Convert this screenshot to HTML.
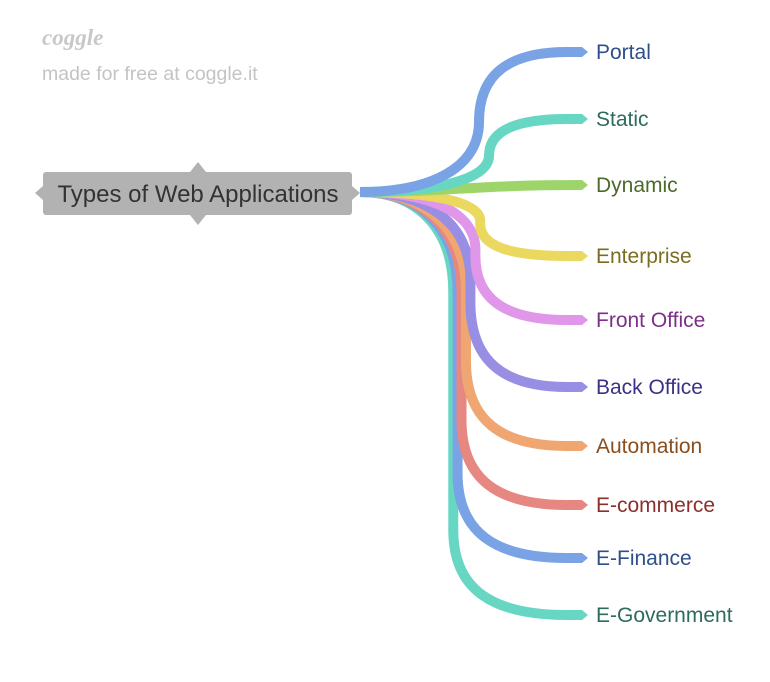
<!DOCTYPE html>
<html><head><meta charset="utf-8"><style>
body{margin:0;background:#fff;width:770px;height:677px;overflow:hidden;font-family:"Liberation Sans",sans-serif}
</style></head><body>
<svg id="map" width="770" height="677" viewBox="0 0 770 677">
<text x="42" y="45" font-size="23" font-style="italic" font-weight="bold" fill="#c8c8c8" font-family="Liberation Serif, serif">coggle</text>
<text x="42" y="80" font-size="19.5" fill="#c4c4c4">made for free at coggle.it</text>
<g id="branches"></g>
<g>
<polygon points="43,186 35,193 43,200" fill="#b2b2b2"/>
<polygon points="352,186 360,193 352,200" fill="#b2b2b2"/>
<polygon points="190,172 198,162 206,172" fill="#b2b2b2"/>
<polygon points="190,215 198,225 206,215" fill="#b2b2b2"/>
<rect x="43" y="172" width="309" height="43" rx="3" fill="#b2b2b2"/>
<text x="198" y="202" text-anchor="middle" font-size="24" fill="#333">Types of Web Applications</text>
</g>
</svg>
<script>
const labels=["Portal","Static","Dynamic","Enterprise","Front Office","Back Office","Automation","E-commerce","E-Finance","E-Government"];
const ys=[52,119,185,256,320,387,446,505,558,615];
const lineColors=["#7aa3e5","#67d7c4","#9ed56b","#ebd95f","#e096e9","#988ee3","#efa670","#e68782","#7aa3e5","#67d7c4"];
const textColors=["#2f4f8a","#2d6b5c","#4a6b2a","#7a6d22","#7c3088","#3a3285","#8a4e1e","#8a2f2b","#2f4f8a","#2d6b5c"];
const NS="http://www.w3.org/2000/svg";
const g=document.getElementById('branches');
const sx=360,sy=192,ex=582;
for(let i=labels.length-1;i>=0;i--){
  const y=ys[i];
  const d=Math.abs(y-sy);
  const s=y<sy?-1:1;
  let path;
  if(d<20){
    path=`M${sx},${sy} C450,${sy} 470,${y} ${ex},${y}`;
  } else {
    const cx=s<0?500-d*0.15:485-d*0.075;
    const h1=s<0?d*0.5:Math.min(100,d*0.45);
    const h2=s<0?d*0.5:Math.min(85,d*0.5);
    path=`M${sx},${sy} C${sx+(cx-sx)*0.6},${sy} ${cx},${sy+s*h1*0.35} ${cx},${sy+s*h1} L${cx},${y-s*h2} C${cx},${y-s*h2*0.3} ${cx+(ex-cx)*0.3},${y} ${ex-15},${y} L${ex},${y}`;
  }
  const p=document.createElementNS(NS,'path');
  
  
  p.setAttribute('d',path);
  p.setAttribute('fill','none');p.setAttribute('stroke',lineColors[i]);
  p.setAttribute('stroke-width','10');
  g.appendChild(p);
  const t=document.createElementNS(NS,'polygon');
  
  
  t.setAttribute('points',`${ex},${y-5} ${ex+6},${y} ${ex},${y+5}`);
  t.setAttribute('fill',lineColors[i]);
  g.appendChild(t);
  const tx=document.createElementNS(NS,'text');
  
  
  tx.setAttribute('x',596);tx.setAttribute('y',y+7);
  tx.setAttribute('font-size','21');tx.setAttribute('fill',textColors[i]);
  tx.textContent=labels[i];
  document.getElementById('map').appendChild(tx);
}
</script>
</body></html>
